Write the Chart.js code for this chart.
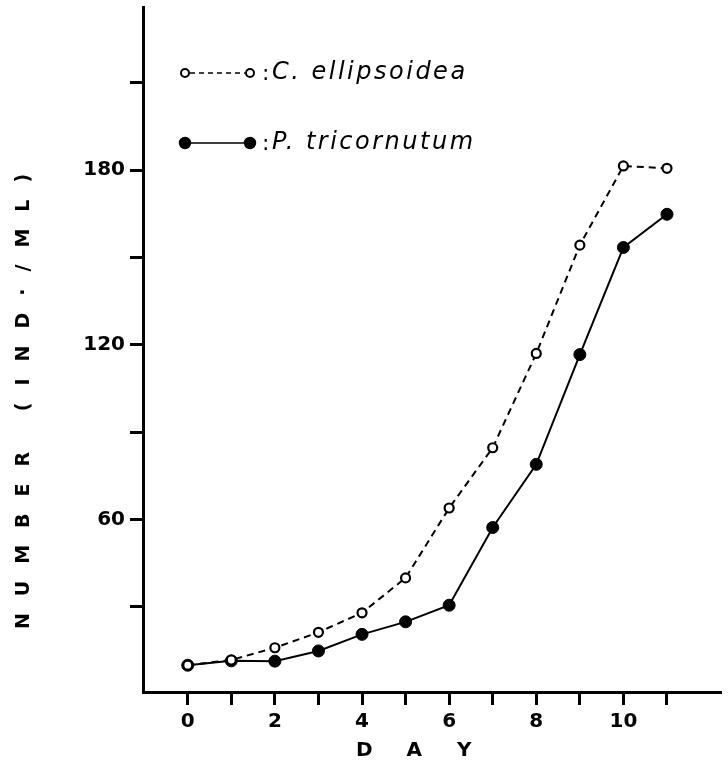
<!DOCTYPE html>
<html><head><meta charset="utf-8">
<script src="https://cdn.jsdelivr.net/npm/chart.js@4.4.1/dist/chart.umd.min.js"></script>
<style>html,body{margin:0;padding:0;background:#fff;}#wrap{width:728px;height:762px;}</style>
</head><body><div id="wrap"><canvas id="c" width="728" height="762"></canvas></div>
<script>
// ---- data ----
const days = [0,1,2,3,4,5,6,7,8,9,10,11];
const ellipsoidea = [9.9,11.7,15.9,21.2,27.9,39.9,63.9,84.6,117.0,154.2,181.4,180.6];
const tricornutum = [9.9,11.4,11.3,14.8,20.5,24.8,30.5,57.2,78.9,116.6,153.4,164.8];
const seriesNames = ['C. ellipsoidea','P. tricornutum'];
const xTicks = [0,1,2,3,4,5,6,7,8,9,10,11];
const xTickLabels = [0,2,4,6,8,10];
const yTicks = [30,60,90,120,150,180,210];
const yTickLabels = [60,120,180];
const xTitle = 'DAY';
const yTitle = 'NUMBER (IND·/ML)';

const pts = (arr) => days.map((d,i)=>({x:d,y:arr[i]}));

const titlesPlugin = {
  id:'titles',
  afterDraw(chart){
    const ctx = chart.ctx, ca = chart.chartArea;
    ctx.save();
    ctx.fillStyle = '#000';
    ctx.textAlign = 'center';
    ctx.textBaseline = 'middle';
    // x title
    ctx.font = 'bold 20px "DejaVu Sans"';
    const xs = chart.scales.x;
    const cx = xs.getPixelForValue(5.2);
    const pitch = 50;
    const chars = xTitle.split('');
    chars.forEach((ch,i)=>{
      ctx.fillText(ch, cx + (i-(chars.length-1)/2)*pitch, ca.bottom + 59);
    });
    // y title
    ctx.font = 'bold 19px "DejaVu Sans"';
    ctx.translate(24, 401);
    ctx.rotate(-Math.PI/2);
    ctx.letterSpacing = '17px';
    const w = ctx.measureText(yTitle).width;
    ctx.textAlign = 'left';
    ctx.fillText(yTitle, -w/2 + 8, 0);
    ctx.restore();
  }
};

const legendPlugin = {
  id:'customLegend',
  afterDraw(chart){
    const ctx = chart.ctx;
    const rows = [73, 143];
    const radii = [4, 5.2];
    chart.data.datasets.forEach((ds,i)=>{
      const y = rows[i];
      const x1 = 185, x2 = 250;
      ctx.save();
      ctx.strokeStyle = '#000';
      ctx.lineWidth = 1.6;
      ctx.setLineDash(ds.borderDash && ds.borderDash.length ? [5,4] : []);
      ctx.beginPath(); ctx.moveTo(x1+5, y); ctx.lineTo(x2-5, y); ctx.stroke();
      ctx.setLineDash([]);
      [x1,x2].forEach(px=>{
        ctx.beginPath();
        ctx.arc(px, y, radii[i], 0, Math.PI*2);
        ctx.fillStyle = ds.pointBackgroundColor;
        ctx.fill();
        ctx.lineWidth = 2;
        ctx.strokeStyle = '#000';
        ctx.stroke();
      });
      ctx.fillStyle = '#000';
      ctx.textBaseline = 'middle';
      ctx.textAlign = 'left';
      ctx.font = '22px "DejaVu Sans"';
      ctx.fillText(':', 262, y+1);
      ctx.font = 'italic 24px "DejaVu Sans"';
      ctx.letterSpacing = '2.5px';
      ctx.fillText(ds.label, 272, y);
      ctx.restore();
    });
  }
};

const zeroPad = (s) => { s.paddingTop = 0; s.paddingBottom = 0; s.paddingLeft = 0; s.paddingRight = 0; };

new Chart(document.getElementById('c'), {
  type:'line',
  data:{
    datasets:[
      {label:seriesNames[0], data:pts(ellipsoidea), borderColor:'#000', borderWidth:2, borderDash:[7,5],
       pointRadius:4.5, pointBackgroundColor:'#fff', pointBorderColor:'#000', pointBorderWidth:2.2, tension:0, fill:false},
      {label:seriesNames[1], data:pts(tricornutum), borderColor:'#000', borderWidth:2, borderDash:[],
       pointRadius:6, pointBackgroundColor:'#000', pointBorderColor:'#000', pointBorderWidth:1, tension:0, fill:false}
    ]
  },
  options:{
    responsive:false, animation:false, devicePixelRatio:1,
    layout:{padding:{left:0,top:6,right:0,bottom:0}},
    plugins:{legend:{display:false}, tooltip:{enabled:false}, title:{display:false}},
    scales:{
      x:{type:'linear', min:-1.027, max:12.24,
        afterBuildTicks:(s)=>{s.ticks = xTicks.map(v=>({value:v}));},
        afterFit:(s)=>{s.height = 70; zeroPad(s);},
        border:{display:true, color:'#000', width:3},
        grid:{display:true, drawOnChartArea:false, drawTicks:true, tickLength:13, tickWidth:3, tickColor:'#000', color:'#000'},
        ticks:{color:'#000', font:{family:'"DejaVu Sans"', size:20, weight:'bold'}, padding:5, maxRotation:0, autoSkip:false,
          callback:(v)=> xTickLabels.includes(v) ? String(v) : ''}
      },
      y:{type:'linear', min:0.7, max:236,
        afterBuildTicks:(s)=>{s.ticks = yTicks.map(v=>({value:v}));},
        afterFit:(s)=>{s.width = 143; zeroPad(s);},
        border:{display:true, color:'#000', width:3},
        grid:{display:true, drawOnChartArea:false, drawTicks:true, tickLength:13, tickWidth:3, tickColor:'#000', color:'#000'},
        ticks:{color:'#000', font:{family:'"DejaVu Sans"', size:20, weight:'bold'}, padding:5, autoSkip:false,
          callback:(v)=> yTickLabels.includes(v) ? String(v) : ''}
      }
    }
  },
  plugins:[titlesPlugin, legendPlugin]
});
</script></body></html>
